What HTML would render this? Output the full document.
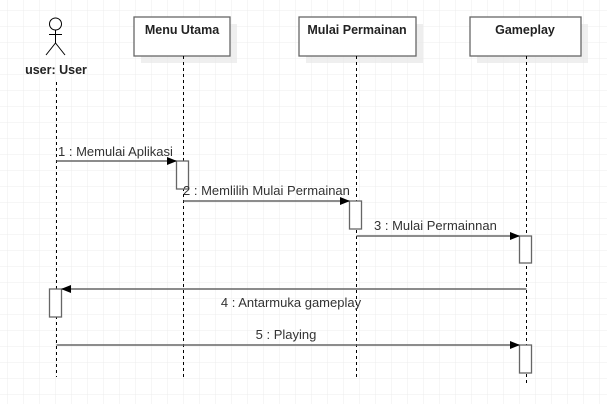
<!DOCTYPE html>
<html><head><meta charset="utf-8"><style>
html,body{margin:0;padding:0;background:#fff;}
svg{display:block;}
text{font-family:"Liberation Sans",Arial,sans-serif;}
</style></head><body>
<svg width="607" height="404" viewBox="0 0 607 404" xmlns="http://www.w3.org/2000/svg">
<defs>
<pattern id="g" x="7" y="10" width="16" height="16" patternUnits="userSpaceOnUse">
<path d="M0 0H16M0 0V16" stroke="#ececec" stroke-width="1" fill="none"/>
</pattern>
<marker id="a" markerWidth="10" markerHeight="10" refX="9" refY="4" orient="auto" markerUnits="userSpaceOnUse">
<path d="M0 0 L10 4 L0 8 Z" fill="#000"/>
</marker>
</defs>
<rect width="607" height="404" fill="url(#g)"/>
<g stroke="#000" stroke-width="1" fill="none">
<circle cx="55.5" cy="24" r="6" fill="#fff"/>
<line x1="55.5" y1="30" x2="55.5" y2="43"/>
<line x1="49" y1="34.5" x2="62" y2="34.5"/>
<line x1="55.5" y1="43" x2="46" y2="55"/>
<line x1="55.5" y1="43" x2="65" y2="55"/>
</g>
<text x="56" y="74" font-size="12.5" font-weight="bold" text-anchor="middle" fill="#222">user: User</text>
<g fill="#e8e8e8" opacity="0.7">
<rect x="141" y="24" width="96" height="39"/>
<rect x="306" y="24" width="117" height="39"/>
<rect x="477" y="24" width="111" height="39"/>
</g>
<g fill="#fff" stroke="#666" stroke-width="1.3">
<rect x="134" y="17" width="96" height="39"/>
<rect x="299" y="17" width="117" height="39"/>
<rect x="470" y="17" width="111" height="39"/>
</g>
<g font-size="12.5" font-weight="bold" text-anchor="middle" fill="#222">
<text x="182" y="34">Menu Utama</text>
<text x="357" y="34">Mulai Permainan</text>
<text x="525" y="34">Gameplay</text>
</g>
<g stroke="#000" stroke-width="1" stroke-dasharray="3,3">
<line x1="56.5" y1="82" x2="56.5" y2="377"/>
<line x1="183.5" y1="56" x2="183.5" y2="377"/>
<line x1="356.5" y1="56" x2="356.5" y2="377"/>
<line x1="526.5" y1="56" x2="526.5" y2="384"/>
</g>
<g fill="#fff" stroke="#666" stroke-width="1.3">
<rect x="176.5" y="161" width="12" height="28"/>
<rect x="349.5" y="201" width="12" height="28"/>
<rect x="519.5" y="236" width="12" height="27"/>
<rect x="49.5" y="289" width="12" height="28"/>
<rect x="519.5" y="345" width="12" height="28"/>
</g>
<g stroke="#666" stroke-width="1.5" fill="none">
<line x1="56.5" y1="161" x2="176" y2="161" marker-end="url(#a)"/>
<line x1="183.5" y1="201" x2="349" y2="201" marker-end="url(#a)"/>
<line x1="356.5" y1="236" x2="519" y2="236" marker-end="url(#a)"/>
<line x1="526.5" y1="289" x2="62" y2="289" marker-end="url(#a)"/>
<line x1="56.5" y1="345" x2="519" y2="345" marker-end="url(#a)"/>
</g>
<g font-size="13" fill="#333">
<text x="58" y="156">1 : Memulai Aplikasi</text>
<text x="183" y="195">2 : Memlilih Mulai Permainan</text>
<text x="374" y="230">3 : Mulai Permainnan</text>
<text x="291" y="307" text-anchor="middle">4 : Antarmuka gameplay</text>
<text x="286" y="339" text-anchor="middle">5 : Playing</text>
</g>
</svg>
</body></html>
